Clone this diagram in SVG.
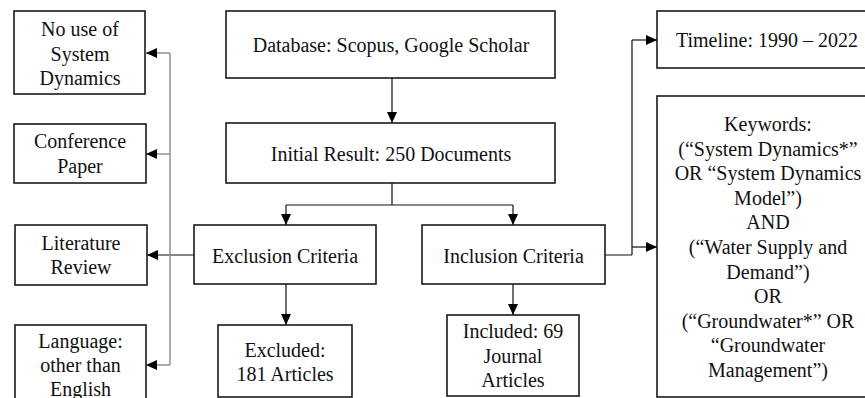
<svg xmlns="http://www.w3.org/2000/svg" width="865" height="398" viewBox="0 0 865 398">
<defs>
<marker id="ah" markerUnits="userSpaceOnUse" markerWidth="11" markerHeight="10" refX="11" refY="5" orient="auto">
<path d="M0,0 L11,5 L0,10 Z" fill="#000"/>
</marker>
</defs>
<style>
.box{fill:#fff;stroke:#1a1a1a;stroke-width:1.6}
.t{font-family:"Liberation Serif","Times New Roman",Times,"Tinos","Noto Serif","DejaVu Serif","FreeSerif",serif;font-size:20px;fill:#111;text-anchor:middle}
.c{fill:none;stroke:#111;stroke-width:1.2}
.g{fill:none;stroke:#8a8a8a;stroke-width:1.4}
</style>
<rect width="865" height="398" fill="#fff"/>
<g id="connectors">
<path class="c" d="M392,78 V123" marker-end="url(#ah)"/>
<path class="c" d="M392,183 V205 M286,205 H513"/>
<path class="c" d="M286,205 V225" marker-end="url(#ah)"/>
<path class="c" d="M513,205 V225" marker-end="url(#ah)"/>
<path class="c" d="M286,284 V325" marker-end="url(#ah)"/>
<path class="c" d="M513,284 V315" marker-end="url(#ah)"/>
<path class="c" d="M194,255 H147" marker-end="url(#ah)"/>
<path class="g" d="M170,53 V365"/>
<path class="g" d="M170,53 H146" marker-end="url(#ah)"/>
<path class="g" d="M170,154 H146" marker-end="url(#ah)"/>
<path class="g" d="M170,365 H146" marker-end="url(#ah)"/>
<path class="c" d="M605,255 H632 M632,255 V40"/>
<path class="c" d="M632,40 H657" marker-end="url(#ah)"/>
<path class="c" d="M632,247 H657" marker-end="url(#ah)"/>
</g>
<g id="n-database">
<rect class="box" x="226" y="11" width="329" height="67"/>
<text class="t" x="391" y="52">Database: Scopus, Google Scholar</text>
</g>
<g id="n-initial">
<rect class="box" x="226" y="123" width="329" height="60"/>
<text class="t" x="391" y="161">Initial Result: 250 Documents</text>
</g>
<g id="n-exclusion">
<rect class="box" x="194" y="225" width="182" height="59"/>
<text class="t" x="285" y="263">Exclusion Criteria</text>
</g>
<g id="n-inclusion">
<rect class="box" x="422" y="225" width="183" height="59"/>
<text class="t" x="513.5" y="263">Inclusion Criteria</text>
</g>
<g id="n-excluded">
<rect class="box" x="218" y="325" width="134" height="72"/>
<text class="t" x="285" y="357">Excluded:</text>
<text class="t" x="285" y="381">181 Articles</text>
</g>
<g id="n-included">
<rect class="box" x="447" y="315" width="132" height="81"/>
<text class="t" x="513" y="338">Included: 69</text>
<text class="t" x="513" y="362.5">Journal</text>
<text class="t" x="513" y="387">Articles</text>
</g>
<g id="n-nouse">
<rect class="box" x="14" y="11" width="131" height="83"/>
<text class="t" x="80" y="36">No use of</text>
<text class="t" x="80" y="60.5">System</text>
<text class="t" x="80" y="85">Dynamics</text>
</g>
<g id="n-conference">
<rect class="box" x="14" y="124" width="132" height="59"/>
<text class="t" x="80" y="148">Conference</text>
<text class="t" x="80" y="173">Paper</text>
</g>
<g id="n-literature">
<rect class="box" x="15" y="225" width="132" height="60"/>
<text class="t" x="81" y="250">Literature</text>
<text class="t" x="81" y="274">Review</text>
</g>
<g id="n-language">
<rect class="box" x="15" y="325" width="131" height="90"/>
<text class="t" x="80.5" y="348">Language:</text>
<text class="t" x="80.5" y="372">other than</text>
<text class="t" x="80.5" y="395.5">English</text>
</g>
<g id="n-timeline">
<rect class="box" x="657" y="11" width="222" height="57"/>
<text class="t" x="767" y="46.5">Timeline: 1990 – 2022</text>
</g>
<g id="n-keywords">
<rect class="box" x="657" y="96" width="222" height="301"/>
<text class="t" x="768" y="131">Keywords:</text>
<text class="t" x="768" y="155.6">(“System Dynamics*”</text>
<text class="t" x="768" y="180.2">OR “System Dynamics</text>
<text class="t" x="768" y="204.8">Model”)</text>
<text class="t" x="768" y="229.4">AND</text>
<text class="t" x="768" y="254">(“Water Supply and</text>
<text class="t" x="768" y="278.6">Demand”)</text>
<text class="t" x="768" y="303.2">OR</text>
<text class="t" x="768" y="327.8">(“Groundwater*” OR</text>
<text class="t" x="768" y="352.4">“Groundwater</text>
<text class="t" x="768" y="377">Management”)</text>
</g>
</svg>
